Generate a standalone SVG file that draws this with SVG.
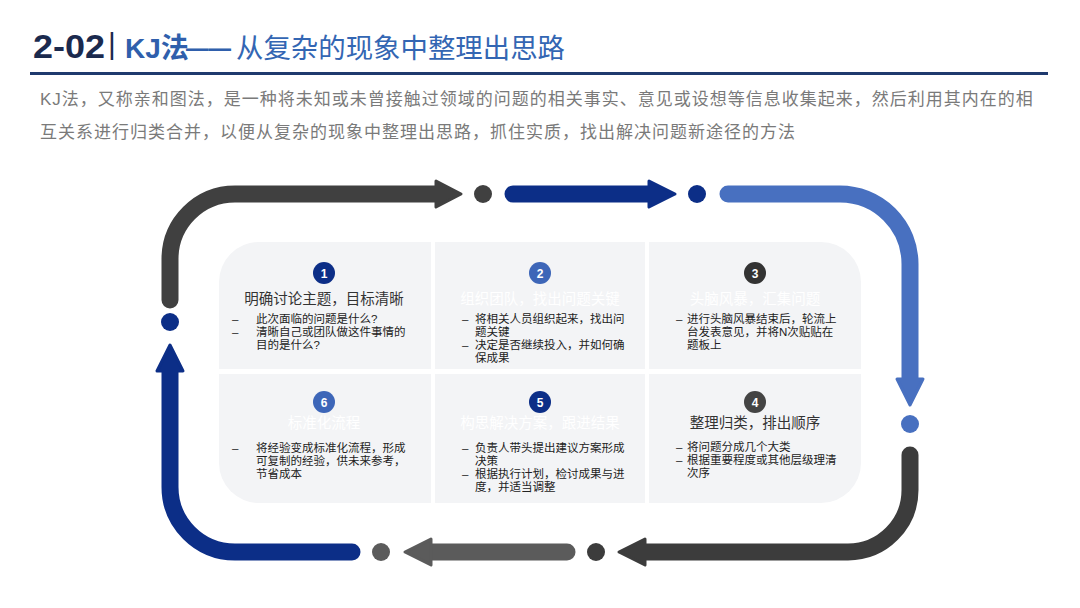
<svg xmlns="http://www.w3.org/2000/svg" width="1080" height="608" viewBox="0 0 1080 608">
<defs>
<style>
text{font-family:"Liberation Sans","Noto Sans CJK SC",sans-serif;}
.card{fill:#f3f4f6;}
.num{font-size:12px;font-weight:bold;fill:#fff;text-anchor:middle;}
.ttl{font-size:14.5px;fill:#333;text-anchor:middle;}
.ttlw{font-size:14.5px;fill:#fff;text-anchor:middle;}
.bl{font-size:11.5px;fill:#222;}
.para{font-size:17px;fill:#7a7a7a;letter-spacing:1px;}
.seg{fill:none;stroke-width:17;stroke-linecap:round;}
.head{stroke-width:3;stroke-linejoin:round;}
</style>
</defs>
<rect width="1080" height="608" fill="#fff"/>
<g id="header">
<text x="33" y="58" font-size="33" font-weight="bold" fill="#1b2a4e" textLength="72" lengthAdjust="spacingAndGlyphs">2-02</text>
<text x="108" y="54" font-size="30" fill="#1b2a4e">|</text>
<text x="125" y="58" font-size="28" font-weight="bold" fill="#2f5fac">KJ法</text>
<text x="186" y="58" font-size="24" font-weight="bold" fill="#2f5fac" textLength="45" lengthAdjust="spacingAndGlyphs" dy="-2">——</text>
<text x="236" y="58" font-size="27.5" fill="#3366b3" textLength="329" lengthAdjust="spacingAndGlyphs">从复杂的现象中整理出思路</text>
<rect x="30" y="72" width="1018" height="3" fill="#1f3a6e"/>
<text class="para" x="40" y="105">KJ法，又称亲和图法，是一种将未知或未曾接触过领域的问题的相关事实、意见或设想等信息收集起来，然后利用其内在的相</text>
<text class="para" x="40" y="138">互关系进行归类合并，以便从复杂的现象中整理出思路，抓住实质，找出解决问题新途径的方法</text>
</g>
<g id="connectors">
<path class="seg" stroke="#404040" d="M170,300 L170,259 A65,65 0 0 1 235,194 L438,194"/>
<polygon class="head" fill="#404040" stroke="#404040" points="436,181 461,194 436,207"/>
<circle cx="483" cy="194" r="9" fill="#404040"/>
<path class="seg" stroke="#0c2e87" d="M513,194 L650,194"/>
<polygon class="head" fill="#0c2e87" stroke="#0c2e87" points="649,181 675,194 649,207"/>
<circle cx="697" cy="194" r="9" fill="#0c2e87"/>
<path class="seg" stroke="#4870c0" d="M728,194 L840,194 A70,70 0 0 1 910,264 L910,382"/>
<polygon class="head" fill="#4870c0" stroke="#4870c0" points="897,379 910,405 923,379"/>
<circle cx="910" cy="424" r="9" fill="#4870c0"/>
<path class="seg" stroke="#3c3c3c" d="M910,455 L910,490 A62,62 0 0 1 848,552 L644,552"/>
<polygon class="head" fill="#3c3c3c" stroke="#3c3c3c" points="645,539 619,552 645,565"/>
<circle cx="596" cy="552" r="9" fill="#3c3c3c"/>
<path class="seg" stroke="#5b5b5b" d="M567,552 L430,552"/>
<polygon class="head" fill="#5b5b5b" stroke="#5b5b5b" points="431,539 405,552 431,565"/>
<circle cx="381" cy="552" r="9" fill="#5b5b5b"/>
<path class="seg" stroke="#0c2e87" d="M352,552 L235,552 A65,65 0 0 1 170,487 L170,370"/>
<polygon class="head" fill="#0c2e87" stroke="#0c2e87" points="157,371 170,345 183,371"/>
<circle cx="170" cy="322" r="9" fill="#0c2e87"/>
</g>
<g id="card1">
<path class="card" d="M259,242 L431,242 L431,369 L219,369 L219,282 A40,40 0 0 1 259,242 Z"/>
<circle cx="324" cy="273" r="11" fill="#0c2e87"/>
<text class="num" x="324" y="277.5">1</text>
<text class="ttl" x="324" y="304">明确讨论主题，目标清晰</text>
<text class="bl" x="232" y="323">–</text><text class="bl" x="256" y="323">此次面临的问题是什么?</text>
<text class="bl" x="232" y="336">–</text><text class="bl" x="256" y="336">清晰自己或团队做这件事情的</text>
<text class="bl" x="256" y="349">目的是什么?</text>
</g>
<g id="card2">
<rect class="card" x="435" y="242" width="210" height="127"/>
<circle cx="540" cy="273" r="11" fill="#3d66b8"/>
<text class="num" x="540" y="277.5">2</text>
<text class="ttlw" x="540" y="304">组织团队，找出问题关键</text>
<text class="bl" x="462" y="323">–</text><text class="bl" x="475" y="323">将相关人员组织起来，找出问</text>
<text class="bl" x="475" y="336">题关键</text>
<text class="bl" x="462" y="349">–</text><text class="bl" x="475" y="349">决定是否继续投入，并如何确</text>
<text class="bl" x="475" y="362">保成果</text>
</g>
<g id="card3">
<path class="card" d="M649,242 L821,242 A40,40 0 0 1 861,282 L861,369 L649,369 Z"/>
<circle cx="755" cy="273" r="11" fill="#333"/>
<text class="num" x="755" y="277.5">3</text>
<text class="ttlw" x="755" y="304">头脑风暴，汇集问题</text>
<text class="bl" x="676" y="323">–</text><text class="bl" x="687" y="323">进行头脑风暴结束后，轮流上</text>
<text class="bl" x="687" y="336">台发表意见，并将N次贴贴在</text>
<text class="bl" x="687" y="349">题板上</text>
</g>
<g id="card4">
<path class="card" d="M649,374 L861,374 L861,463 A40,40 0 0 1 821,503 L649,503 Z"/>
<circle cx="755" cy="402" r="11" fill="#444"/>
<text class="num" x="755" y="406.5">4</text>
<text class="ttl" x="755" y="428">整理归类，排出顺序</text>
<text class="bl" x="676" y="451">–</text><text class="bl" x="687" y="451">将问题分成几个大类</text>
<text class="bl" x="676" y="464">–</text><text class="bl" x="687" y="464">根据重要程度或其他层级理清</text>
<text class="bl" x="687" y="477">次序</text>
</g>
<g id="card5">
<rect class="card" x="435" y="374" width="210" height="129"/>
<circle cx="540" cy="402" r="11" fill="#0c2e87"/>
<text class="num" x="540" y="406.5">5</text>
<text class="ttlw" x="540" y="428">构思解决方案，跟进结果</text>
<text class="bl" x="462" y="452">–</text><text class="bl" x="475" y="452">负责人带头提出建议方案形成</text>
<text class="bl" x="475" y="465">决策</text>
<text class="bl" x="462" y="478">–</text><text class="bl" x="475" y="478">根据执行计划，检讨成果与进</text>
<text class="bl" x="475" y="491">度，并适当调整</text>
</g>
<g id="card6">
<path class="card" d="M219,374 L431,374 L431,503 L259,503 A40,40 0 0 1 219,463 Z"/>
<circle cx="324" cy="402" r="11" fill="#3d66b8"/>
<text class="num" x="324" y="406.5">6</text>
<text class="ttlw" x="324" y="428">标准化流程</text>
<text class="bl" x="232" y="452">–</text><text class="bl" x="256" y="452">将经验变成标准化流程，形成</text>
<text class="bl" x="256" y="465">可复制的经验，供未来参考，</text>
<text class="bl" x="256" y="478">节省成本</text>
</g>
</svg>
